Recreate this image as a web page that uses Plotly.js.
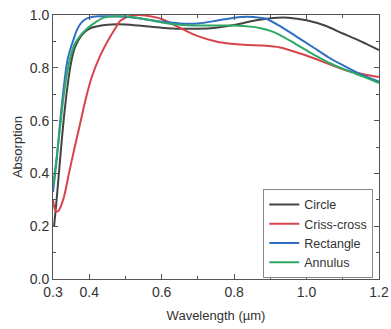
<!DOCTYPE html>
<html><head><meta charset="utf-8">
<script src="https://cdn.plot.ly/plotly-3.0.1.min.js"></script>
<style>html,body{margin:0;padding:0;background:#fff}</style>
</head><body><div id="chart" style="width:391px;height:329px"></div>
<script>
// Wavelength (µm) / absorption
const circleX = [0.303,0.31,0.32,0.33,0.34,0.35,0.36,0.38,0.40,0.45,0.50,0.55,0.60,0.65,0.70,0.75,0.80,0.85,0.90,0.95,1.00,1.05,1.10,1.15,1.20];
const circleY = [0.20,0.30,0.46,0.61,0.73,0.82,0.875,0.925,0.948,0.963,0.964,0.958,0.952,0.948,0.948,0.952,0.962,0.977,0.988,0.99,0.98,0.96,0.93,0.90,0.867];

const crissX = [0.30,0.305,0.31,0.316,0.33,0.344,0.36,0.371,0.39,0.407,0.43,0.448,0.47,0.486,0.51,0.535,0.56,0.60,0.645,0.70,0.75,0.80,0.837,0.88,0.927,0.97,1.02,1.06,1.111,1.16,1.20];
const crissY = [0.30,0.265,0.255,0.26,0.31,0.40,0.50,0.565,0.68,0.765,0.845,0.894,0.945,0.978,0.995,1.0,0.997,0.985,0.955,0.92,0.90,0.89,0.886,0.884,0.877,0.86,0.836,0.815,0.79,0.775,0.765];

const rectX = [0.30,0.31,0.32,0.33,0.34,0.35,0.355,0.365,0.375,0.385,0.40,0.426,0.45,0.50,0.55,0.60,0.65,0.70,0.75,0.80,0.837,0.87,0.89,0.93,0.97,1.02,1.06,1.10,1.15,1.20];
const rectY = [0.33,0.45,0.60,0.73,0.83,0.88,0.90,0.94,0.965,0.98,0.99,0.995,0.995,0.993,0.985,0.975,0.968,0.968,0.978,0.99,0.993,0.99,0.985,0.955,0.92,0.876,0.84,0.81,0.775,0.748];

const annX = [0.30,0.31,0.32,0.33,0.34,0.35,0.36,0.377,0.40,0.42,0.44,0.47,0.50,0.55,0.60,0.65,0.70,0.75,0.80,0.85,0.873,0.90,0.927,0.97,1.02,1.06,1.111,1.16,1.20];
const annY = [0.35,0.46,0.58,0.70,0.79,0.85,0.89,0.925,0.955,0.975,0.99,0.995,0.995,0.985,0.972,0.963,0.96,0.96,0.96,0.955,0.95,0.94,0.924,0.89,0.85,0.82,0.79,0.765,0.742];

const names = ['Circle','Criss-cross','Rectangle','Annulus'];
const colors = ['#444444','#d9434b','#2f6fc4','#2fa866'];
const xs = [circleX, crissX, rectX, annX];
const ys = [circleY, crissY, rectY, annY];

const xTickVals = [0.3,0.4,0.6,0.8,1.0,1.2];
const xTickText = ['0.3','0.4','0.6','0.8','1.0','1.2'];
const xMinorVals = [0.5,0.7,0.9,1.1];

const traces = names.map((n,i)=>({
  x: xs[i], y: ys[i], name: n, type:'scatter', mode:'lines',
  line:{color:colors[i], width:2, shape:'spline', smoothing:0.8}
}));

const axisCommon = {
  showline:true, linecolor:'#555', linewidth:1, mirror:'ticks',
  ticks:'inside', ticklen:5, tickcolor:'#555', tickwidth:1,
  showgrid:false, zeroline:false, ticklabeloverflow:'allow',
  tickfont:{family:'Liberation Sans, Arial, sans-serif', size:14, color:'#333'}
};

const layout = {
  width:391, height:329,
  margin:{l:53, r:12, t:15, b:50},
  paper_bgcolor:'#fff', plot_bgcolor:'#fff',
  font:{family:'Liberation Sans, Arial, sans-serif', color:'#333'},
  showlegend:true,
  legend:{x:0.645, y:0.341, xanchor:'left', yanchor:'top',
    bordercolor:'#888', borderwidth:1, bgcolor:'#fff',
    font:{size:12.5, color:'#333'}, itemwidth:30, tracegroupgap:0},
  xaxis: Object.assign({}, axisCommon, {
    range:[0.3,1.2], tickmode:'array',
    tickvals:xTickVals, ticktext:xTickText,
    minor:{tickvals:xMinorVals, ticks:'inside', ticklen:3, tickcolor:'#555'},
    title:{text:'Wavelength (\u00b5m)', font:{size:13, color:'#333'}, standoff:12}
  }),
  yaxis: Object.assign({}, axisCommon, {
    range:[0,1.0], tickmode:'linear', tick0:0, dtick:0.2, tickformat:'.1f',
    minor:{dtick:0.1, ticks:'inside', ticklen:3, tickcolor:'#555'},
    title:{text:'Absorption', font:{size:13, color:'#333'}, standoff:4}
  })
};

Plotly.newPlot('chart', traces, layout, {displayModeBar:false, staticPlot:true});
</script></body></html>
